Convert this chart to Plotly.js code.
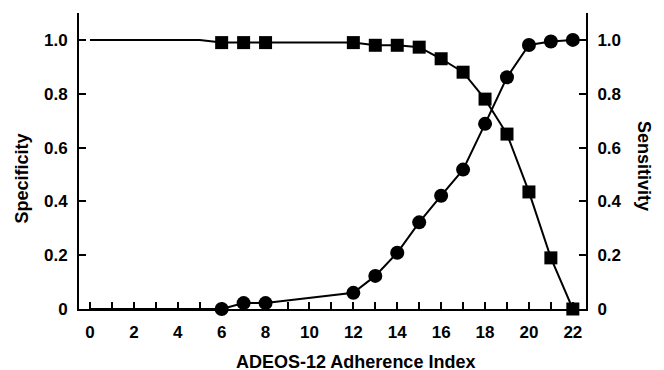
<!DOCTYPE html>
<html>
<head>
<meta charset="utf-8">
<script src="https://cdn.plot.ly/plotly-3.0.1.min.js"></script>
<style>
html,body{margin:0;padding:0;background:#fff;}
#chart{width:664px;height:370px;}
</style>
</head>
<body>
<div id="chart"></div>
<script>
// Specificity (squares, left axis)
const specX = [0, 5, 6, 7, 8, 12, 13, 14, 15, 16, 17, 18, 19, 20, 21, 22];
const specY = [1.0, 1.0, 0.99, 0.99, 0.99, 0.99, 0.98, 0.98, 0.973, 0.93, 0.88, 0.78, 0.65, 0.435, 0.19, 0.0];
const specMarked = [false, false, true, true, true, true, true, true, true, true, true, true, true, true, true, true];
// Sensitivity (circles, right axis)
const sensX = [0, 5, 6, 7, 8, 12, 13, 14, 15, 16, 17, 18, 19, 20, 21, 22];
const sensY = [0.0, 0.0, 0.0, 0.022, 0.022, 0.06, 0.123, 0.209, 0.322, 0.421, 0.518, 0.688, 0.861, 0.981, 0.994, 1.0];
const sensMarked = [false, false, true, true, true, true, true, true, true, true, true, true, true, true, true, true];

const xTickVals = [0,1,2,3,4,5,6,7,8,9,10,11,12,13,14,15,16,17,18,19,20,21,22];
const xTickText = ["0","","2","","4","","6","","8","","10","","12","","14","","16","","18","","20","","22"];
const yTickVals = [0, 0.2, 0.4, 0.6, 0.8, 1.0];
const yTickText = ["0", "0.2", "0.4", "0.6", "0.8", "1.0"];

const xTitle = "ADEOS-12 Adherence Index";
const yTitle = "Specificity";
const y2Title = "Sensitivity";

const FONT = "Liberation Sans, Arial, Helvetica, sans-serif";

const traces = [
  {
    x: specX, y: specY, yaxis: 'y', type: 'scatter', mode: 'lines+markers',
    line: {color: '#000', width: 2},
    marker: {symbol: 'square', color: '#000', opacity: 1, line: {width: 0},
             size: specMarked.map(m => m ? 13 : 0)},
    cliponaxis: false, showlegend: false, hoverinfo: 'skip'
  },
  {
    x: sensX, y: sensY, yaxis: 'y2', type: 'scatter', mode: 'lines+markers',
    line: {color: '#000', width: 2},
    marker: {symbol: 'circle', color: '#000', opacity: 1, line: {width: 0},
             size: sensMarked.map(m => m ? 14 : 0)},
    cliponaxis: false, showlegend: false, hoverinfo: 'skip'
  }
];

const tickFont = {family: FONT, size: 17, color: '#000', weight: 'bold'};
const titleFont = {family: FONT, size: 18, color: '#000', weight: 'bold'};

const yCommon = {
  range: [0, 1.1], tickvals: yTickVals, ticktext: yTickText,
  ticks: 'inside', ticklen: 7, tickwidth: 2, tickcolor: '#000',
  showline: true, linecolor: '#000', linewidth: 2,
  showgrid: false, zeroline: false, tickfont: tickFont, ticklabelstandoff: 6
};

const layout = {
  width: 664, height: 370,
  margin: {l: 79, r: 78, t: 13, b: 61},
  paper_bgcolor: '#fff', plot_bgcolor: '#fff',
  xaxis: {
    range: [-0.5, 22.6], tickvals: xTickVals, ticktext: xTickText,
    ticks: 'inside', ticklen: 7, tickwidth: 2, tickcolor: '#000',
    showline: true, linecolor: '#000', linewidth: 2,
    showgrid: false, zeroline: false, tickfont: tickFont, ticklabelstandoff: 7
  },
  yaxis: Object.assign({}, yCommon, {side: 'left'}),
  yaxis2: Object.assign({}, yCommon, {side: 'right', overlaying: 'y'}),
  annotations: [
    {text: xTitle, xref: 'paper', yref: 'paper', x: 0.546, y: -(361.5 - 309) / 296, xanchor: 'center', yanchor: 'middle',
     showarrow: false, font: titleFont},
    {text: yTitle, xref: 'paper', yref: 'paper', x: (21.5 - 79) / 507, y: 1 - (179 - 13) / 296, xanchor: 'center', yanchor: 'middle',
     textangle: -90, showarrow: false, font: titleFont},
    {text: y2Title, xref: 'paper', yref: 'paper', x: (644 - 79) / 507, y: 1 - (166 - 13) / 296, xanchor: 'center', yanchor: 'middle',
     textangle: 90, showarrow: false, font: titleFont}
  ]
};

Plotly.newPlot('chart', traces, layout, {staticPlot: true, displayModeBar: false});
</script>
</body>
</html>
